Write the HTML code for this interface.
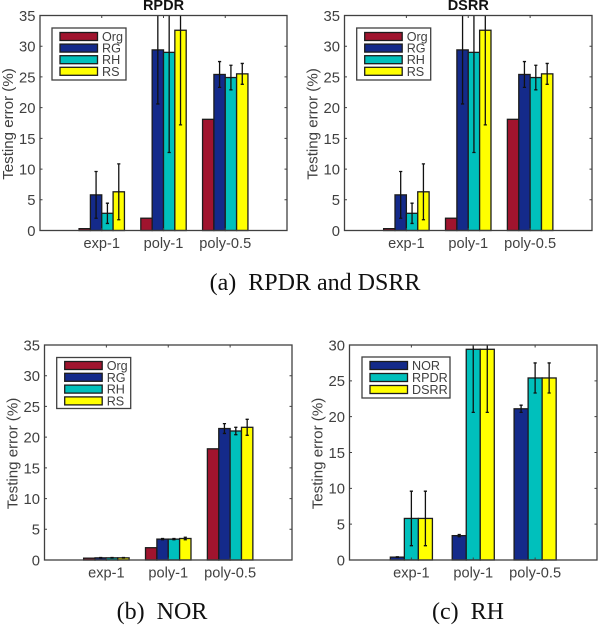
<!DOCTYPE html>
<html lang="en">
<head>
<meta charset="utf-8">
<title>Testing error bar charts</title>
<style>
html,body{margin:0;padding:0;background:#fff;}
#stage{display:block;width:600px;height:626px;filter:blur(0.35px);}
text{font-family:"Liberation Sans",sans-serif;fill:#404040;}
.cap{font-family:"Liberation Serif",serif;fill:#111;font-size:24px;}
</style>
</head>
<body>
<svg id="stage" xmlns="http://www.w3.org/2000/svg" width="600" height="626" viewBox="0 0 600 626">
<text class="cap" x="315" y="290" text-anchor="middle" xml:space="preserve">(a)  RPDR and DSRR</text>
<text class="cap" x="162" y="619" text-anchor="middle" xml:space="preserve">(b)  NOR</text>
<text class="cap" x="468" y="619" text-anchor="middle" xml:space="preserve">(c)  RH</text>
</svg>
<script>
const categories = ['exp-1', 'poly-1', 'poly-0.5'];

const rpdrSeries = ['Org', 'RG', 'RH', 'RS'];
const rpdrValues = [[0.3, 2, 18.1], [5.8, 29.4, 25.4], [2.8, 29, 24.9], [6.3, 32.6, 25.5]];
const rpdrErrors = [[0, 0, 0], [3.8, 8.8, 2.1], [1.65, 16.3, 2], [4.55, 15.4, 1.7]];
const rpdrTicks = [0, 5, 10, 15, 20, 25, 30, 35];

const dsrrSeries = ['Org', 'RG', 'RH', 'RS'];
const dsrrValues = [[0.3, 2, 18.1], [5.8, 29.4, 25.4], [2.8, 29, 24.9], [6.3, 32.6, 25.5]];
const dsrrErrors = [[0, 0, 0], [3.8, 8.8, 2.1], [1.65, 16.3, 2], [4.55, 15.4, 1.7]];
const dsrrTicks = [0, 5, 10, 15, 20, 25, 30, 35];

const norSeries = ['Org', 'RG', 'RH', 'RS'];
const norValues = [[0.3, 2, 18.1], [0.35, 3.4, 21.4], [0.35, 3.4, 21], [0.35, 3.5, 21.6]];
const norErrors = [[0, 0, 0], [0.05, 0.1, 0.8], [0.05, 0.1, 0.6], [0.05, 0.2, 1.3]];
const norTicks = [0, 5, 10, 15, 20, 25, 30, 35];

const rhSeries = ['NOR', 'RPDR', 'DSRR'];
const rhValues = [[0.4, 3.4, 21.1], [5.8, 29.4, 25.4], [5.8, 29.4, 25.4]];
const rhErrors = [[0.05, 0.15, 0.5], [3.8, 8.8, 2.1], [3.8, 8.8, 2.1]];
const rhTicks = [0, 5, 10, 15, 20, 25, 30];

const colorByName = {Org: '#a0142e', RG: '#142a8a', NOR: '#142a8a', RH: '#00c0bc', RPDR: '#00c0bc', RS: '#ffff00', DSRR: '#ffff00'};
const SVGNS = 'http://www.w3.org/2000/svg';
const stage = document.getElementById('stage');

function mk(parent, tag, attrs, text) {
  const el = document.createElementNS(SVGNS, tag);
  for (const k in attrs) el.setAttribute(k, attrs[k]);
  if (text !== undefined) el.textContent = text;
  parent.appendChild(el);
  return el;
}

function drawPanel(p) {
  const g = mk(stage, 'g', {});
  
  
  const W = p.right - p.left;
  const yMax = p.ticks[p.ticks.length - 1];
  const xScale = v => p.left + (v / 4) * W;
  const yScale = v => p.bottom - (v / yMax) * (p.bottom - p.top);
  const clipId = 'clip-' + p.id;
  const defs = mk(g, 'defs', {});
  const cp = mk(defs, 'clipPath', {id: clipId});
  mk(cp, 'rect', {x: p.left, y: p.top, width: W, height: p.bottom - p.top});

  const n = p.series.length;
  const groupW = n === 4 ? 0.735 : 0.68;
  const bw = groupW / n;
  // bars
  p.values.forEach((vals, s) => {
    vals.forEach((v, c) => {
      const x0 = xScale(c + 1 - groupW / 2 + s * bw);
      const r = mk(g, 'rect', {x: x0, y: yScale(v), width: xScale(bw) - xScale(0), height: p.bottom - yScale(v),
        fill: colorByName[p.series[s]], stroke: '#1c1c1c', 'stroke-width': 1.3});
      
      
    });
  });
  // error bars
  const eg = mk(g, 'g', {'clip-path': 'url(#' + clipId + ')', stroke: '#111', 'stroke-width': 1.3, fill: 'none'});
  p.errors.forEach((errs, s) => {
    errs.forEach((e, c) => {
      if (!e) return;
      const xc = xScale(c + 1 - groupW / 2 + (s + 0.5) * bw);
      const v = p.values[s][c];
      const yl = yScale(v - e), yh = yScale(v + e);
      const cap = 1.6;
      const path = mk(eg, 'path', {d: 'M' + xc + ' ' + yl + 'V' + yh + 'M' + (xc - cap) + ' ' + yl + 'H' + (xc + cap) + 'M' + (xc - cap) + ' ' + yh + 'H' + (xc + cap)});
      
      
    });
  });
  // axes box
  const box = mk(g, 'rect', {x: p.left, y: p.top, width: W, height: p.bottom - p.top, fill: 'none', stroke: '#404040', 'stroke-width': 1.3});
  
  
  // y ticks
  p.ticks.forEach(t => {
    const y = yScale(t);
    mk(g, 'path', {d: 'M' + p.left + ' ' + y + 'h2.5M' + p.right + ' ' + y + 'h-2.5', stroke: '#404040', 'stroke-width': 1});
    const lab = mk(g, 'text', {x: p.left - 4.5, y: y + 5.4, 'text-anchor': 'end', 'font-size': 14.8}, String(t));
    
    
  });
  // x ticks
  categories.forEach((c, i) => {
    const x = xScale(i + 1);
    mk(g, 'path', {d: 'M' + x + ' ' + p.top + 'v2.5M' + x + ' ' + p.bottom + 'v-2.5', stroke: '#404040', 'stroke-width': 1});
    const lab = mk(g, 'text', {x: x, y: p.bottom + 17.5, 'text-anchor': 'middle', 'font-size': 14.6}, c);
    
    
  });
  // y axis title
  const yMid = (p.top + p.bottom) / 2 + 1;
  const yt = mk(g, 'text', {x: 0, y: 0, 'text-anchor': 'middle', 'font-size': 15.1,
    transform: 'translate(' + (p.left - 27) + ' ' + yMid + ') rotate(-90)'}, 'Testing error (%)');
  
  
  // title
  if (p.title) {
    const tt = mk(g, 'text', {x: (p.left + p.right) / 2, y: 10, 'text-anchor': 'middle', 'font-size': 14.5, 'font-weight': 'bold', style: 'fill:#111'}, p.title);
    
    
  }
  // legend
  const lg = mk(g, 'g', {});
  
  
  mk(lg, 'rect', {x: p.lx, y: p.ly, width: p.lw, height: p.lh, fill: '#fff', stroke: '#404040', 'stroke-width': 1.3});
  p.series.forEach((name, i) => {
    const cy = p.ly + p.lfirst + i * p.lstep;
    const entry = mk(lg, 'g', {});
    
    
    mk(entry, 'rect', {x: p.lx + 8, y: cy - 4, width: 37.5, height: 8, fill: colorByName[name], stroke: '#1c1c1c', 'stroke-width': 1.3});
    mk(entry, 'text', {x: p.lx + 50, y: cy + 4.5, 'font-size': 12.6}, name);
  });
}

drawPanel({id: 'rpdr', title: 'RPDR', left: 40, right: 287, top: 15.5, bottom: 230.5,
  series: rpdrSeries, values: rpdrValues, errors: rpdrErrors, ticks: rpdrTicks,
  lx: 52, ly: 28, lw: 74, lh: 52, lfirst: 8.5, lstep: 11.6});
drawPanel({id: 'dsrr', title: 'DSRR', left: 344.5, right: 592, top: 15.5, bottom: 230.5,
  series: dsrrSeries, values: dsrrValues, errors: dsrrErrors, ticks: dsrrTicks,
  lx: 356.7, ly: 28, lw: 74, lh: 52, lfirst: 8.5, lstep: 11.6});
drawPanel({id: 'nor', title: '', left: 44.5, right: 292, top: 345, bottom: 560,
  series: norSeries, values: norValues, errors: norErrors, ticks: norTicks,
  lx: 56.7, ly: 357.5, lw: 74, lh: 51, lfirst: 8, lstep: 11.8});
drawPanel({id: 'rh', title: '', left: 349.5, right: 597, top: 345, bottom: 560,
  series: rhSeries, values: rhValues, errors: rhErrors, ticks: rhTicks,
  lx: 362, ly: 357, lw: 88, lh: 41, lfirst: 8.5, lstep: 12});
</script>
</body>
</html>
